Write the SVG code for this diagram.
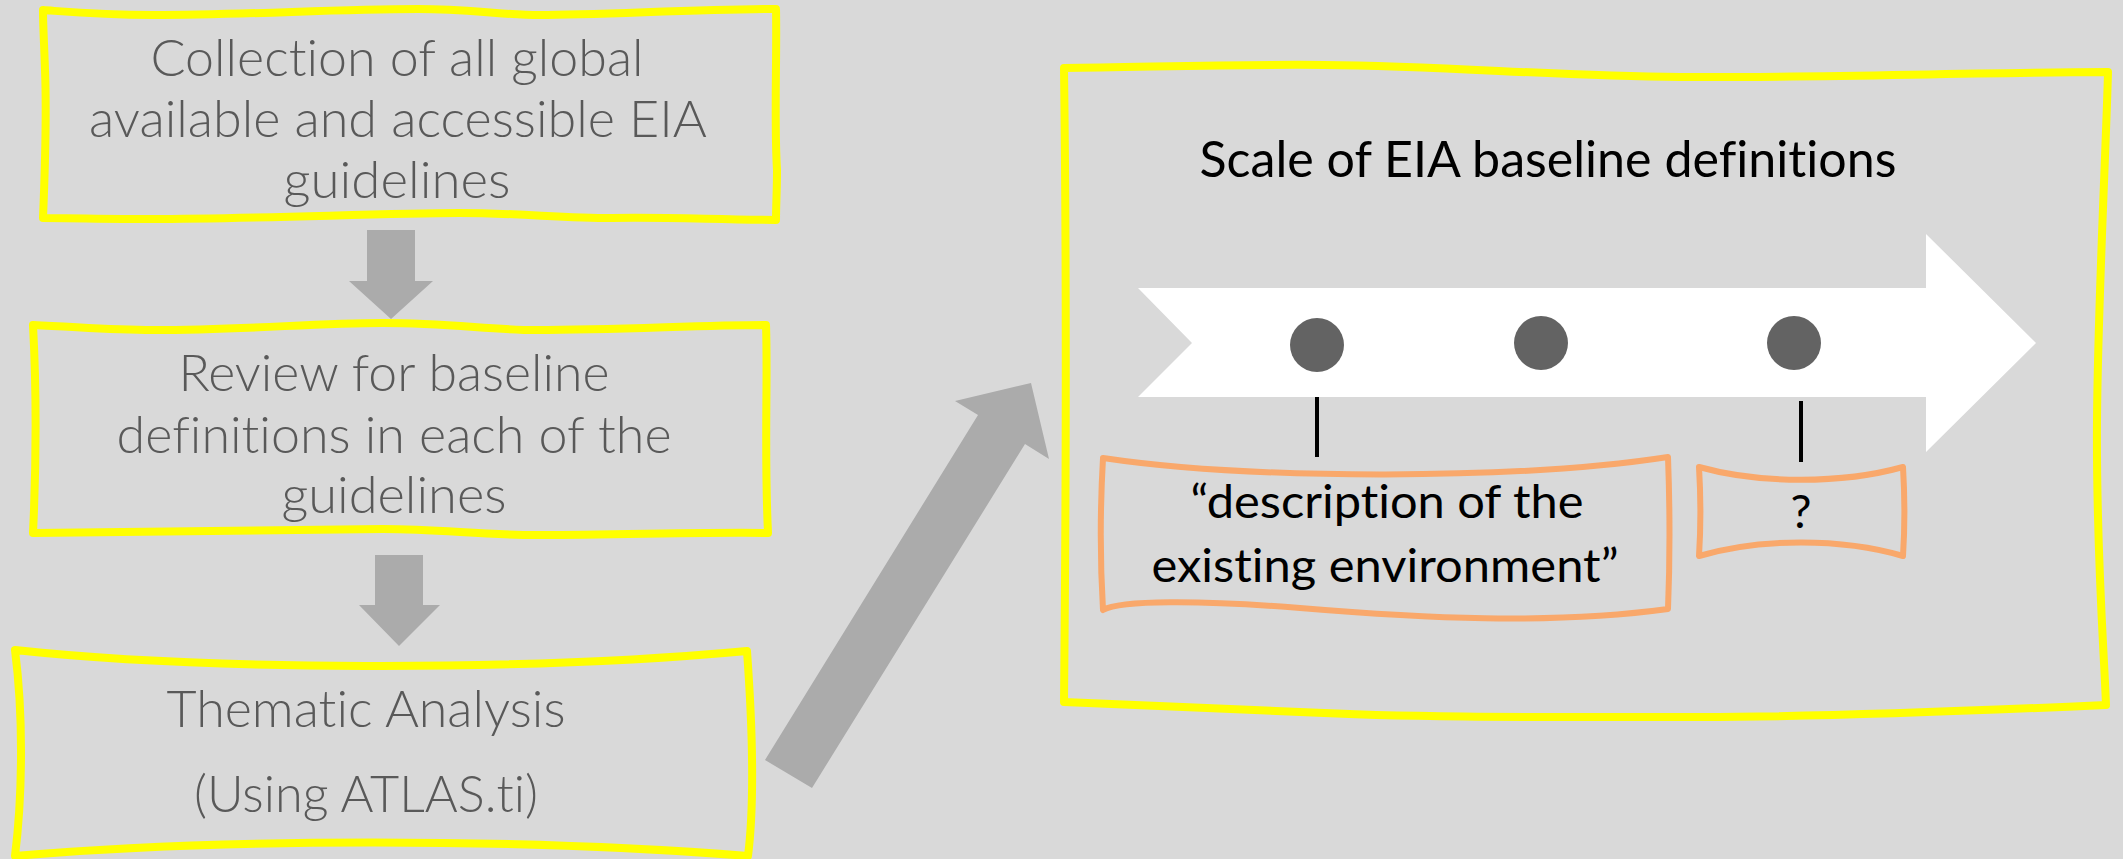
<svg xmlns="http://www.w3.org/2000/svg" width="2123" height="859" viewBox="0 0 2123 859">
<style>
.bg{fill:#d9d9d9}
.ybox{fill:none;stroke:#ffff00;stroke-width:8;stroke-linejoin:round;stroke-linecap:round}
.obox{fill:none;stroke:#f9a86b;stroke-width:6;stroke-linejoin:round;stroke-linecap:round}
.garrow{fill:#ababab}
text{font-variant-ligatures:none;font-feature-settings:"liga" 0,"dlig" 0}
.gt{font-family:Lato,"Open Sans",sans-serif;font-size:51px;font-weight:300;fill:#595959;text-anchor:middle}
.bt{font-family:Lato,"Open Sans",sans-serif;font-size:50px;fill:#000000;text-anchor:middle}
.ot{font-family:Lato,"Open Sans",sans-serif;font-size:47px;fill:#000000;text-anchor:middle}
.dot{fill:#636363}
.tick{stroke:#000000;stroke-width:4}
</style>
<rect class="bg" x="0" y="0" width="2123" height="859"/>

<g id="node-collection">
<path class="ybox" d="M43,10 C70,12 100,15 153,15 C250,15 330,9 418,9 C470,9 500,15 540,15 C600,15 700,9 776,9 C777,60 774,120 777,170 C777,190 776,205 776,220 C700,219 660,217 612,218 C560,218 520,213 459,213 C380,213 260,219 150,219 C110,219 70,218 43,218 C45,170 47,120 45,70 C44,40 43,25 43,10 Z"/>
<text class="gt" x="397" y="76" textLength="493" lengthAdjust="spacingAndGlyphs">Collection of all global</text>
<text class="gt" x="398" y="137" textLength="618" lengthAdjust="spacingAndGlyphs">available and accessible EIA</text>
<text class="gt" x="397" y="198" textLength="227" lengthAdjust="spacingAndGlyphs">guidelines</text>
</g>

<g id="node-review">
<path class="ybox" d="M33,325 C80,327 110,330 153,330 C250,330 310,323 383,323 C450,323 490,330 536,330 C620,330 700,325 766,325 C768,380 764,450 768,533 C700,532 600,535 536,535 C480,535 440,529 383,529 C300,529 200,531 33,533 C36,470 37,400 33,325 Z"/>
<text class="gt" x="394" y="391" textLength="431" lengthAdjust="spacingAndGlyphs">Review for baseline</text>
<text class="gt" x="394" y="453" textLength="555" lengthAdjust="spacingAndGlyphs">definitions in each of the</text>
<text class="gt" x="394" y="513" textLength="225" lengthAdjust="spacingAndGlyphs">guidelines</text>
</g>

<g id="node-thematic">
<path class="ybox" d="M15,650 C200,670 520,672 747,651 C752,720 755,800 748,856 C520,838 220,838 15,856 C22,800 24,720 15,650 Z"/>
<text class="gt" x="366" y="727" textLength="399" lengthAdjust="spacingAndGlyphs">Thematic Analysis</text>
<text class="gt" x="366" y="812" textLength="344" lengthAdjust="spacingAndGlyphs">(Using ATLAS.ti)</text>
</g>

<g id="node-scale">
<path class="ybox" d="M1064,68 C1150,67 1250,64 1324,65 C1450,66 1550,76 1680,77 C1803,78 1950,73 2108,72 C2106,150 2098,300 2097,420 C2096,550 2104,650 2106,705 C1950,712 1820,717 1700,717 C1550,717 1420,718 1300,712 C1200,708 1120,705 1064,702 C1066,500 1067,300 1064,68 Z"/>
<text class="bt" x="1548" y="177" textLength="697" lengthAdjust="spacingAndGlyphs">Scale of EIA baseline definitions</text>
<polygon fill="#ffffff" points="1138,288 1926,288 1926,234 2036,343 1926,452 1926,397 1138,397 1192,343"/>
<circle class="dot" cx="1317" cy="345" r="27"/>
<circle class="dot" cx="1541" cy="343" r="27"/>
<circle class="dot" cx="1794" cy="343" r="27"/>
</g>

<g id="node-description">
<path class="obox" d="M1103,458 C1250,480 1520,480 1668,457 C1670,510 1670,560 1668,609 C1550,625 1420,618 1300,608 C1200,600 1120,600 1103,610 C1100,560 1100,510 1103,458 Z"/>
<text class="ot" x="1387" y="518" textLength="393" lengthAdjust="spacingAndGlyphs">“description of the</text>
<text class="ot" x="1385" y="582" textLength="467" lengthAdjust="spacingAndGlyphs">existing environment”</text>
</g>

<g id="node-question">
<path class="obox" d="M1699,467 C1760,484 1842,484 1903,467 C1905,500 1905,525 1903,556 C1842,538 1760,538 1699,556 C1701,525 1701,500 1699,467 Z"/>
<text class="ot" x="1801" y="528">?</text>
</g>

<g id="connectors">
<polygon class="garrow" points="367,230 415,230 415,281 433,281 391,319 349,281 367,281"/>
<polygon class="garrow" points="375,555 423,555 423,605 440,605 399,646 359,605 375,605"/>
<polygon class="garrow" points="765,760 978,415 955,401 1031,383 1049,459 1025,444 812,788"/>
<line class="tick" x1="1317" y1="397" x2="1317" y2="457"/>
<line class="tick" x1="1801" y1="401" x2="1801" y2="462"/>
</g>
</svg>
